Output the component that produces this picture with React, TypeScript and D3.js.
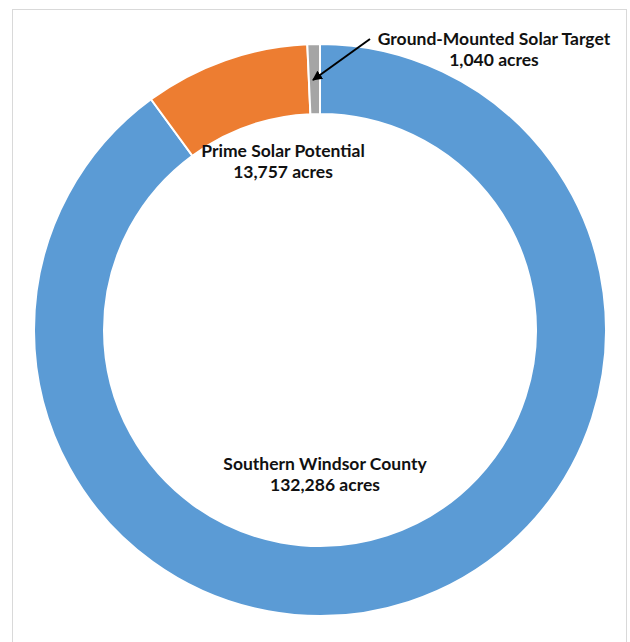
import { useEffect, useRef } from "react";
import * as d3 from "d3";

const categories = ["Southern Windsor County", "Prime Solar Potential", "Ground-Mounted Solar Target"];
const acres = [132286, 13757, 1040];
const colors = ["#5b9bd5", "#ed7d31", "#a5a5a5"];

export default function App() {
  const svgRef = useRef<SVGSVGElement>(null);
  const width = 630;
  const height = 642;

  useEffect(() => {
    if (!svgRef.current) return;
    const svg = d3.select(svgRef.current);
    svg.selectAll("*").remove();

    // chart frame
    svg.append("rect")
      .attr("x", 12.5)
      .attr("y", 9.5)
      .attr("width", 614)
      .attr("height", 660)
      .attr("fill", "#fff")
      .attr("stroke", "#d9d9d9")
      .attr("stroke-width", 1);

    const cx = 320;
    const cy = 330;
    const outer = 286;
    const inner = 216;

    const data = categories.map((c, i) => ({ name: c, value: acres[i], color: colors[i] }));
    const pie = d3.pie<any>().sort(null).value(d => d.value).startAngle(0);
    const arc = d3.arc<any>().innerRadius(inner).outerRadius(outer);

    const g = svg.append("g").attr("transform", `translate(${cx},${cy})`);
    g.selectAll("path")
      .data(pie(data))
      .join("path")
      .attr("d", arc)
      .attr("fill", d => d.data.color)
      .attr("stroke", "#fff")
      .attr("stroke-width", 2);

    // labels (placed like the Excel chart, not on centroids)
    const fmt = d3.format(",");
    const labelPos = [
      { x: 325, y: 470 },
      { x: 283, y: 157 },
      { x: 494, y: 45 },
    ];
    data.forEach((d, i) => {
      const t = svg.append("text")
        .attr("x", labelPos[i].x)
        .attr("y", labelPos[i].y)
        .attr("text-anchor", "middle")
        .attr("fill", "#111")
        .style("font-family", "Lato, 'Open Sans', sans-serif")
        .style("font-weight", "bold")
        .style("font-size", "17.5px");
      t.append("tspan").attr("x", labelPos[i].x).text(d.name);
      t.append("tspan").attr("x", labelPos[i].x).attr("dy", 21).text(`${fmt(d.value)} acres`);
    });

    // arrow for the small slice
    svg.append("defs").append("marker")
      .attr("id", "arrowhead")
      .attr("viewBox", "0 0 10 10")
      .attr("refX", 9)
      .attr("refY", 5)
      .attr("markerWidth", 5)
      .attr("markerHeight", 5)
      .attr("orient", "auto")
      .append("path")
      .attr("d", "M0,0L10,5L0,10z")
      .attr("fill", "#000");

    svg.append("line")
      .attr("x1", 370)
      .attr("y1", 39)
      .attr("x2", 313)
      .attr("y2", 80)
      .attr("stroke", "#000")
      .attr("stroke-width", 2)
      .attr("marker-end", "url(#arrowhead)");
  }, []);

  return (
    <svg
      ref={svgRef}
      width={width}
      height={height}
      viewBox={`0 0 ${width} ${height}`}
      style={{ position: "absolute", left: 0, top: 0 }}
    />
  );
}
